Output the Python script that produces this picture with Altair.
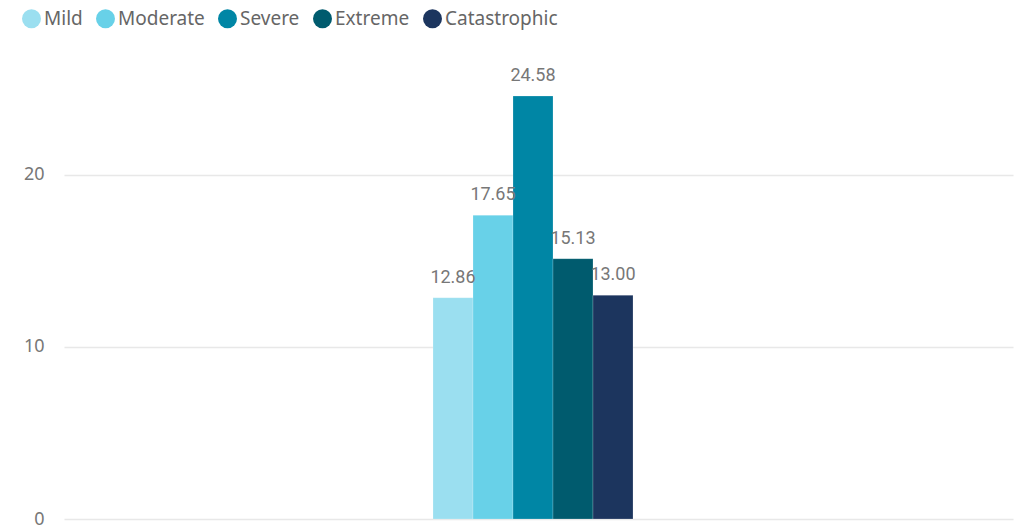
import altair as alt
import pandas as pd

categories = ["Mild", "Moderate", "Severe", "Extreme", "Catastrophic"]
values = [12.86, 17.65, 24.58, 15.13, 13.00]
colors = ["#9BDFF0", "#68D1E8", "#0086A5", "#005B6E", "#1C355E"]
y_ticks = [0, 10, 20]

df = pd.DataFrame({"category": categories, "value": values,
                   "idx": list(range(len(categories)))})
df["label"] = [f"{v:.2f}" for v in values]

base = alt.Chart(df).transform_calculate(
    x0="datum.idx - 0.5", x1="datum.idx + 0.5"
)

xscale = alt.Scale(domain=[-9.725, 14.0], nice=False, zero=False)
y = alt.Y("value:Q", scale=alt.Scale(domain=[0, 26.5], nice=False),
          axis=alt.Axis(values=y_ticks, title=None, domain=False, ticks=False,
                        labelFontSize=18, labelColor="#777777", labelFont="Noto Sans",
                        labelPadding=20, gridColor="#E8E8E8", gridWidth=1.5))

bars = base.mark_bar(stroke="white", strokeWidth=0.5, strokeOpacity=0.4).encode(
    x=alt.X("x0:Q", scale=xscale, axis=None),
    x2="x1:Q",
    y=y,
    y2=alt.datum(0),
    color=alt.Color("category:N", sort=categories,
                    scale=alt.Scale(domain=categories, range=colors),
                    legend=alt.Legend(orient="none", direction="horizontal",
                                      legendX=-42, legendY=-54, title=None,
                                      symbolType="circle", symbolSize=360,
                                      symbolStrokeWidth=0,
                                      labelFontSize=19, labelColor="#666666",
                                      labelFont="Noto Sans", labelOffset=3,
                                      columnPadding=13, padding=0)),
)

labels = base.mark_text(baseline="bottom", dy=-11, fontSize=18,
                        font="Roboto", color="#777777").encode(
    x=alt.X("idx:Q", scale=xscale, axis=None), y=y, text="label:N"
)

chart = (bars + labels).properties(
    width=949, height=456,
    autosize=alt.AutoSizeParams(type="none"),
    padding={"left": 56, "top": 55, "right": 4, "bottom": 14},
    background="white",
).configure_view(stroke=None)

chart.save("out.html", embed_options={"renderer": "svg", "actions": False})
